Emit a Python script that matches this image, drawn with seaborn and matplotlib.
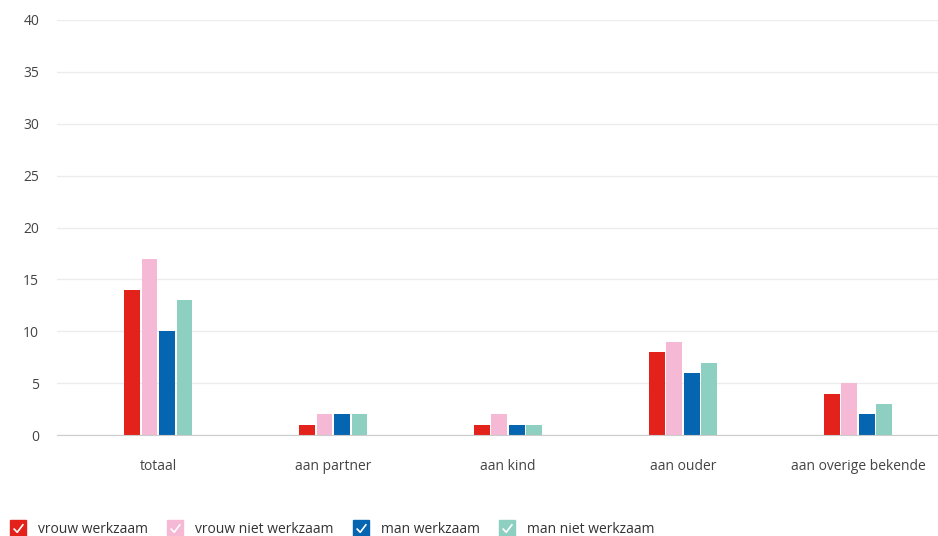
import pandas as pd
import matplotlib.pyplot as plt
import seaborn as sns
from matplotlib.lines import Line2D
from matplotlib.path import Path
from matplotlib.legend_handler import HandlerTuple

# Data
categories = ["totaal", "aan partner", "aan kind", "aan ouder", "aan overige bekende"]
series = ["vrouw werkzaam", "vrouw niet werkzaam", "man werkzaam", "man niet werkzaam"]
vrouw_werkzaam = [14, 1, 1, 8, 4]
vrouw_niet_werkzaam = [17, 2, 2, 9, 5]
man_werkzaam = [10, 2, 1, 6, 2]
man_niet_werkzaam = [13, 2, 1, 7, 3]
colors = ["#e2221b", "#f5b8d5", "#0565b0", "#8dcfc1"]

df = pd.DataFrame({
    "categorie": categories * 4,
    "reeks": [s for s in series for _ in categories],
    "waarde": vrouw_werkzaam + vrouw_niet_werkzaam + man_werkzaam + man_niet_werkzaam,
})

sns.set_style("white")
plt.rcParams["font.family"] = ["Open Sans", "DejaVu Sans"]

fig = plt.figure(figsize=(9.38, 5.36), dpi=100)
ax = fig.add_axes([0.061, 0.188, 0.939, 0.775])

sns.barplot(data=df, x="categorie", y="waarde", hue="reeks", hue_order=series,
            palette=colors, width=0.4, gap=0.1, ax=ax, legend=False,
            saturation=1, edgecolor="none")

ax.set_ylim(0, 40)
ax.set_yticks(range(0, 41, 5))
ax.set_xlim(-0.577, 4.457)
ax.grid(axis="y", color="#ececec", linewidth=1)
ax.set_axisbelow(True)
for s in ["top", "right", "left"]:
    ax.spines[s].set_visible(False)
ax.spines["bottom"].set_color("#cccccc")
ax.tick_params(axis="both", length=0, labelsize=10, colors="#444444")
ax.tick_params(axis="x", pad=17)
ax.tick_params(axis="y", pad=13)
ax.set_xlabel("")
ax.set_ylabel("")

# Legend with checkbox-like markers
check = Path([(-0.45, 0.0), (-0.12, -0.35), (0.45, 0.4)],
             [Path.MOVETO, Path.LINETO, Path.LINETO])
handles = []
for c in colors:
    box = Line2D([], [], marker="s", markersize=12, color=c, linestyle="none")
    tick = Line2D([], [], marker=check, markersize=7, markerfacecolor="none",
                  markeredgecolor="white", markeredgewidth=1.2, linestyle="none")
    handles.append((box, tick))
fig.legend(handles, series, handler_map={tuple: HandlerTuple(ndivide=1, pad=0)},
           loc="lower left", bbox_to_anchor=(-0.004, -0.025), ncol=4, frameon=False,
           fontsize=10, labelcolor="#333333", handlelength=1.3, handletextpad=0.8,
           columnspacing=1.3)

plt.savefig("out.png", dpi=100)
